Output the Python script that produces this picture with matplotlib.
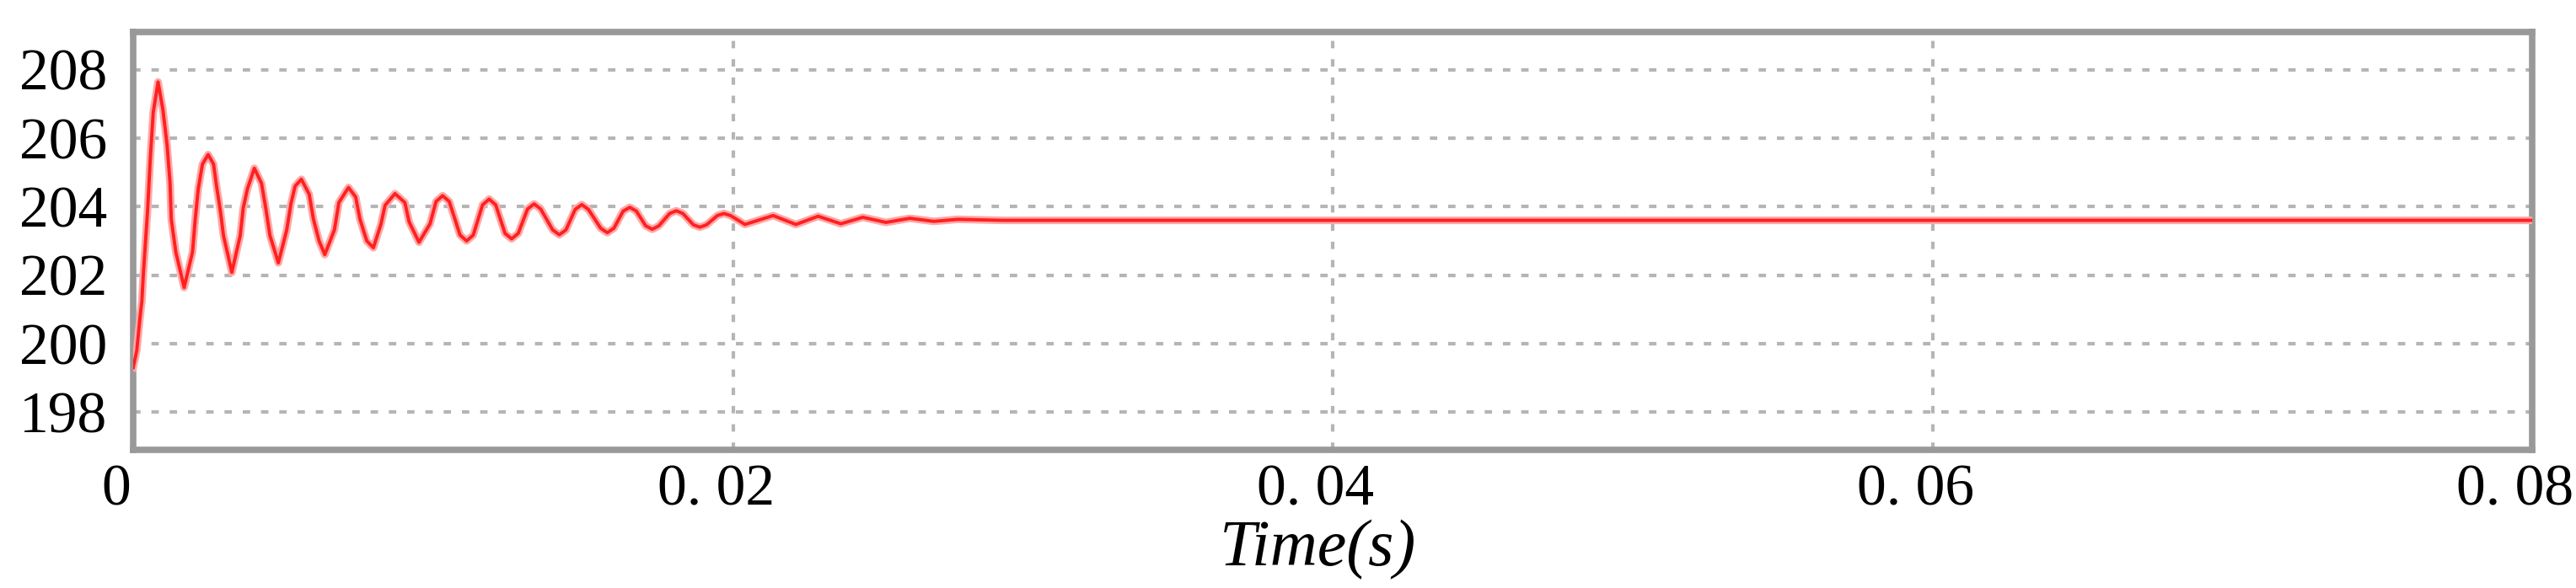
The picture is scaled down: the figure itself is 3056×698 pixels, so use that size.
import numpy as np
import matplotlib.pyplot as plt
import matplotlib.transforms as mtransforms

# DC-link voltage after start-up
time_s = [0.0, 0.00012, 0.00022, 0.00029, 0.00034, 0.00048, 0.00057, 0.00067, 0.00083,
          0.00099, 0.00113, 0.00123, 0.00127, 0.00142, 0.00170,
          0.00198, 0.00207, 0.00217, 0.00231, 0.00250,
          0.00268, 0.00278, 0.00292, 0.00301, 0.00329,
          0.00357, 0.00367, 0.00381, 0.00404,
          0.00428, 0.00442, 0.00456, 0.00484,
          0.00512, 0.00526, 0.00540, 0.00561,
          0.00587, 0.00601, 0.00620, 0.00639,
          0.00671, 0.00686, 0.00718,
          0.00742, 0.00756, 0.00779, 0.00801,
          0.00826, 0.00840, 0.00873,
          0.00906, 0.00920, 0.00953,
          0.00990, 0.01010, 0.01032, 0.01054, 0.01090, 0.01112, 0.01134,
          0.01165, 0.01187, 0.01209, 0.01240, 0.01262, 0.01284,
          0.01315, 0.01337, 0.01359, 0.01399, 0.01421, 0.01443,
          0.01474, 0.01496, 0.01518, 0.01559, 0.01581, 0.01603,
          0.01634, 0.01656, 0.01678, 0.01709, 0.01731, 0.01753,
          0.01789, 0.01811, 0.01833, 0.01868, 0.01890, 0.01912,
          0.01948, 0.01970, 0.01992, 0.02040, 0.02134, 0.02210,
          0.02284, 0.02360, 0.02433, 0.02510, 0.02590, 0.02670,
          0.02750, 0.02900, 0.03300, 0.08000]
voltage = [199.3, 199.8, 200.7, 201.24, 202.04, 203.88, 205.4, 206.76, 207.64,
           206.84, 205.8, 204.68, 203.64, 202.68, 201.64,
           202.68, 203.64, 204.52, 205.24, 205.52,
           205.24, 204.6, 203.8, 203.16, 202.08,
           203.16, 203.96, 204.52, 205.12,
           204.68, 203.96, 203.16, 202.36,
           203.32, 204.08, 204.6, 204.8,
           204.36, 203.64, 203.0, 202.6,
           203.32, 204.12, 204.56,
           204.28, 203.64, 203.0, 202.8,
           203.48, 204.04, 204.38,
           204.12, 203.56, 202.96,
           203.5, 204.15, 204.32, 204.15, 203.17, 203.0, 203.17,
           204.05, 204.22, 204.05, 203.22, 203.06, 203.22,
           203.93, 204.08, 203.93, 203.32, 203.18, 203.32,
           203.92, 204.06, 203.92, 203.37, 203.24, 203.37,
           203.87, 203.98, 203.87, 203.44, 203.34, 203.44,
           203.8, 203.88, 203.8, 203.47, 203.4, 203.47,
           203.74, 203.8, 203.74, 203.48, 203.74, 203.48,
           203.72, 203.5, 203.69, 203.54, 203.66, 203.57,
           203.63, 203.6, 203.6, 203.6]

x_ticks = [0, 0.02, 0.04, 0.06, 0.08]
x_tick_labels = ["0", "0. 02", "0. 04", "0. 06", "0. 08"]
y_ticks = [198, 200, 202, 204, 206, 208]

plt.rcParams['font.family'] = ['Liberation Serif', 'DejaVu Serif']

fig = plt.figure()
fig.set_size_inches(30.56, 6.98)
ax = fig.add_axes([0.0517, 0.235, 0.9313, 0.7106])

# pink halo + red core like the anti-aliased simulator trace
ax.plot(time_s, voltage, color="#ffa8a8", lw=6.5, solid_joinstyle="round", zorder=3)
ax.plot(time_s, voltage, color="#ff2020", lw=2.8, solid_joinstyle="round", zorder=4)

ax.set_xlim(0, 0.08)
ax.set_ylim(196.9, 209.1)
ax.set_xticks(x_ticks)
ax.set_xticklabels(x_tick_labels)
ax.set_yticks(y_ticks)

ax.grid(True, color="#b5b5b5", lw=3.0, linestyle=(0, (2.1, 3.1)), zorder=1)
ax.tick_params(axis="both", length=0, labelsize=50)
ax.tick_params(axis="x", pad=12)
ax.tick_params(axis="y", pad=22)

offset = mtransforms.ScaledTranslation(-0.2, 0, fig.dpi_scale_trans)
for lab in ax.get_xticklabels():
    lab.set_transform(lab.get_transform() + offset)

for s in ax.spines.values():
    s.set_color("#999999")
    s.set_linewidth(5.5)

ax.set_xlabel("Time(s)", fontsize=56, style="italic")
ax.xaxis.set_label_coords(0.494, -0.166)

plt.savefig("out.png", dpi=100)
